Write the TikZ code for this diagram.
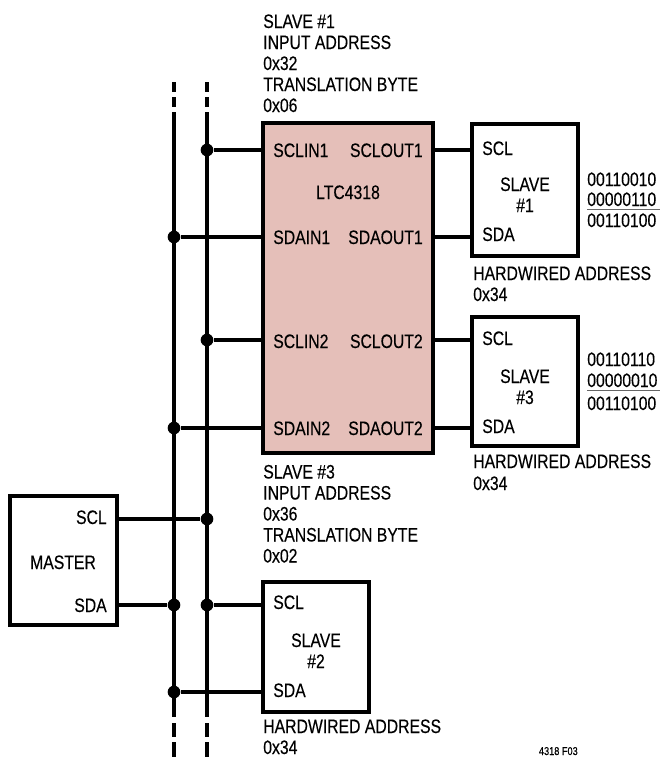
\documentclass[tikz,border=0pt]{standalone}
\usepackage{fontspec}
\setmainfont{Liberation Sans}[FakeStretch=0.81,FakeBold=0.3]
\usetikzlibrary{fit}
\definecolor{ltcpink}{RGB}{229,191,185}
\begin{document}
\begin{tikzpicture}[x=0.75pt,y=-0.75pt,
  wire/.style={line width=3pt},
  box/.style={draw, line width=3pt, inner sep=0pt},
  dot/.style={circle, fill, inner sep=0pt, minimum size=9.5pt},
  lbl/.style={inner sep=0pt, font=\fontsize{14.6}{16}\selectfont},
  small/.style={inner sep=0pt, font=\fontsize{8.5}{10}\selectfont},
  sep/.style={draw=black!60, line width=1.1pt}]
\useasboundingbox (0,0) rectangle (663,757);

% ---------- boxes ----------
\node[box, fill=ltcpink, fit={(263,123) (433,453)}] (ltc) {};
\node[box, fit={(472,124) (578,256)}] (s1) {};
\node[box, fit={(472,317) (578,446)}] (s3) {};
\node[box, fit={(263,582) (369,712)}] (s2) {};
\node[box, fit={(10,496) (117,625)}] (m) {};

% ---------- buses ----------
\coordinate (sdaT) at (174,112);
\coordinate (sdaB) at (174,717);
\coordinate (sclT) at (207,112);
\coordinate (sclB) at (207,717);
\draw[wire] (sdaT) -- (sdaB);
\draw[wire] (sclT) -- (sclB);
\foreach \b in {174,207}{
  \draw[wire] (\b,82) -- (\b,92);
  \draw[wire] (\b,97) -- (\b,107);
  \draw[wire] (\b,723) -- (\b,737);
  \draw[wire] (\b,742) -- (\b,757);
}

% ---------- dots ----------
\node[dot] (d1) at (207,150) {};
\node[dot] (d2) at (174,237) {};
\node[dot] (d3) at (207,340) {};
\node[dot] (d4) at (174,428) {};
\node[dot] (d5) at (207,519) {};
\node[dot] (d6) at (174,605) {};
\node[dot] (d7) at (207,605) {};
\node[dot] (d8) at (174,692) {};

% ---------- wires ----------
\draw[wire] (d1) -- (d1 -| ltc.west);
\draw[wire] (d2) -- (d2 -| ltc.west);
\draw[wire] (d3) -- (d3 -| ltc.west);
\draw[wire] (d4) -- (d4 -| ltc.west);
\draw[wire] (d1 -| ltc.east) -- (d1 -| s1.west);
\draw[wire] (d2 -| ltc.east) -- (d2 -| s1.west);
\draw[wire] (d3 -| ltc.east) -- (d3 -| s3.west);
\draw[wire] (d4 -| ltc.east) -- (d4 -| s3.west);
\draw[wire] (d5 -| m.east) -- (d5);
\draw[wire] (d6 -| m.east) -- (d6);
\draw[wire] (d7) -- (d7 -| s2.west);
\draw[wire] (d8) -- (d8 -| s2.west);

% ---------- LTC4318 labels ----------
\node[lbl, anchor=base west] (li1) at (273,157) {SCLIN1};
\node[lbl, anchor=base east] (lo1) at (423,157) {SCLOUT1};
\node[lbl, anchor=base] (lname) at (348,199) {LTC4318};
\node[lbl, anchor=base west] (li2) at (273,244) {SDAIN1};
\node[lbl, anchor=base east] (lo2) at (423,244) {SDAOUT1};
\node[lbl, anchor=base west] (li3) at (273,348) {SCLIN2};
\node[lbl, anchor=base east] (lo3) at (423,348) {SCLOUT2};
\node[lbl, anchor=base west] (li4) at (273,435) {SDAIN2};
\node[lbl, anchor=base east] (lo4) at (423,435) {SDAOUT2};

% ---------- top text ----------
\foreach \t [count=\i] in {SLAVE \#1, INPUT ADDRESS, 0x32, TRANSLATION BYTE, 0x06}
  \node[lbl, anchor=base west] (top\i) at (263,{28+21*(\i-1)}) {\t};
\foreach \t [count=\i] in {SLAVE \#3, INPUT ADDRESS, 0x36, TRANSLATION BYTE, 0x02}
  \node[lbl, anchor=base west] (mid\i) at (263,{478.5+21*(\i-1)}) {\t};

% ---------- slave 1 ----------
\node[lbl, anchor=base west] (s1scl) at (482,155) {SCL};
\node[lbl, anchor=base] (s1a) at (525,191) {SLAVE};
\node[lbl, anchor=base] (s1b) at (525,212) {\#1};
\node[lbl, anchor=base west] (s1sda) at (482,241) {SDA};
\node[lbl, anchor=base west] (s1n1) at (587,186) {00110010};
\node[lbl, anchor=base west] (s1n2) at (587,206) {00000110};
\node[lbl, anchor=base west] (s1n3) at (587,227) {00110100};
\draw[sep] (s1n2.base west) ++(0,3.5) -- ++(73,0);
\node[lbl, anchor=base west] (s1h1) at (473,280) {HARDWIRED ADDRESS};
\node[lbl, anchor=base west] (s1h2) at (473,301) {0x34};

% ---------- slave 3 ----------
\node[lbl, anchor=base west] (s3scl) at (482,345) {SCL};
\node[lbl, anchor=base] (s3a) at (525,383) {SLAVE};
\node[lbl, anchor=base] (s3b) at (525,404) {\#3};
\node[lbl, anchor=base west] (s3sda) at (482,433) {SDA};
\node[lbl, anchor=base west] (s3n1) at (587,366) {00110110};
\node[lbl, anchor=base west] (s3n2) at (587,387) {00000010};
\node[lbl, anchor=base west] (s3n3) at (587,410) {00110100};
\draw[sep] (s3n2.base west) ++(0,3.5) -- ++(73,0);
\node[lbl, anchor=base west] (s3h1) at (473,468) {HARDWIRED ADDRESS};
\node[lbl, anchor=base west] (s3h2) at (473,490) {0x34};

% ---------- master ----------
\node[lbl, anchor=base east] (mscl) at (107,524) {SCL};
\node[lbl, anchor=base] (mname) at (63,569) {MASTER};
\node[lbl, anchor=base east] (msda) at (107,612) {SDA};

% ---------- slave 2 ----------
\node[lbl, anchor=base west] (s2scl) at (273,609) {SCL};
\node[lbl, anchor=base] (s2a) at (316,647) {SLAVE};
\node[lbl, anchor=base] (s2b) at (316,668) {\#2};
\node[lbl, anchor=base west] (s2sda) at (273,697) {SDA};
\node[lbl, anchor=base west] (s2h1) at (263,733) {HARDWIRED ADDRESS};
\node[lbl, anchor=base west] (s2h2) at (263,754) {0x34};

% ---------- figure id ----------
\node[small, anchor=base east] (fig) at (578,755) {4318 F03};
\end{tikzpicture}
\end{document}
